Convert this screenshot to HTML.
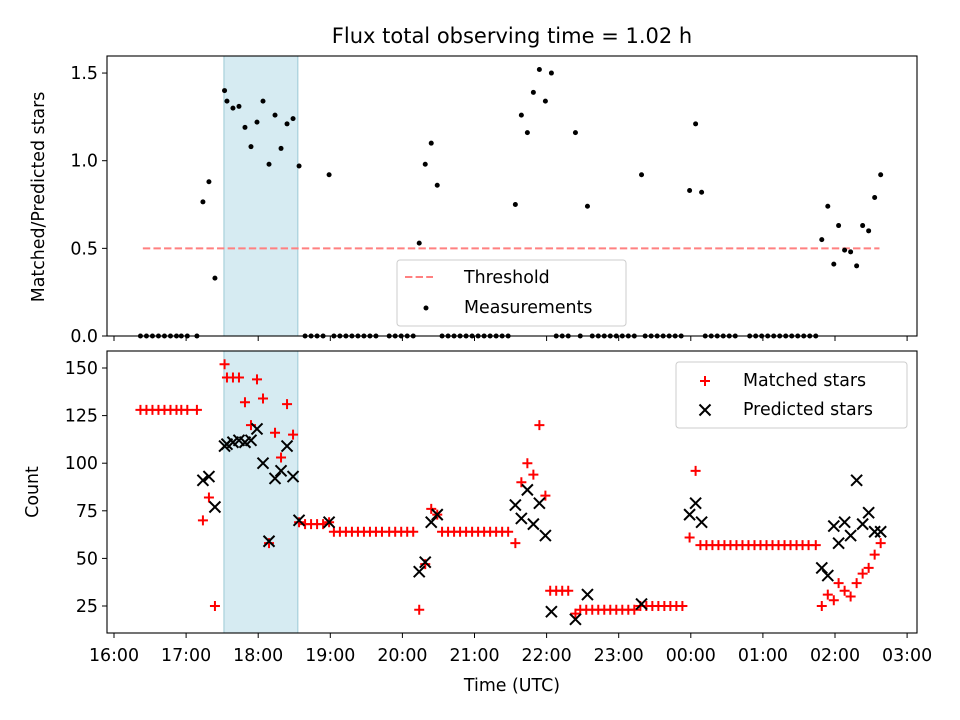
<!DOCTYPE html>
<html><head><meta charset="utf-8"><style>
body{margin:0;background:#fff}
svg{display:block;font-family:"DejaVu Sans","Liberation Sans",sans-serif}
</style></head><body>
<svg id="fig" width="960" height="720" viewBox="0 0 960 720" xmlns="http://www.w3.org/2000/svg">
<rect width="960" height="720" fill="#fff"/>
<text x="512" y="43" text-anchor="middle" font-size="21">Flux total observing time = 1.02 h</text>
</svg>
<script>
// time in minutes since 16:00 UTC
const tickLabels = ["16:00","17:00","18:00","19:00","20:00","21:00","22:00","23:00","00:00","01:00","02:00","03:00"];
const ratioTicks = [0, 0.5, 1.0, 1.5];
const countTicks = [25, 50, 75, 100, 125, 150];
const spanStart = 91.5, spanEnd = 153;
const threshold = 0.5, thresholdStart = 24, thresholdEnd = 637;
const ratioTimes = [74,79,84,92,94,99,104,109,114,119,124,129,134,139,144,149,154,179,254,259,264,269,334,339,344,349,354,359,364,384,394,439,479,484,489,589,594,599,603,608,613,618,623,628,633,638];
const ratioValues = [0.765,0.88,0.33,1.40,1.34,1.30,1.31,1.19,1.08,1.22,1.34,0.98,1.26,1.07,1.21,1.24,0.97,0.92,0.53,0.98,1.10,0.86,0.75,1.26,1.16,1.39,1.52,1.34,1.50,1.16,0.74,0.92,0.83,1.21,0.82,0.55,0.74,0.41,0.63,0.49,0.48,0.40,0.63,0.60,0.79,0.92];
const zeroTimes = [22,27,32,37,42,47,52,56,61,69,159,164,169,174,183,188,193,198,203,208,213,218,229,234,239,244,249,273,278,283,288,293,298,303,308,313,318,323,328,368,373,378,388,398,403,408,413,418,423,428,433,442,447,452,457,462,467,472,492,497,502,507,512,517,529,534,539,544,549,554,559,564,569,574,579,584];
const matchedTimes = [22,27,32,37,42,47,52,56,61,69,74,79,84,92,94,99,104,109,114,119,124,129,134,139,144,149,154,159,164,169,174,179,183,188,193,198,203,208,213,218,223,229,234,239,244,249,254,259,264,269,273,278,283,288,293,298,303,308,313,318,323,328,334,339,344,349,354,359,363,368,373,378,384,388,393,398,403,408,413,418,423,428,433,438,443,448,453,458,463,468,473,479,484,488,493,498,503,508,513,518,523,528,533,538,543,548,553,558,563,568,573,578,584,589,594,599,603,608,613,618,623,628,633,638];
const matchedValues = [128,128,128,128,128,128,128,128,128,128,70,82,25,152,145,145,145,132,120,144,134,58,116,103,131,115,69,68,68,68,68,69,64,64,64,64,64,64,64,64,64,64,64,64,64,64,23,47,76,73,64,64,64,64,64,64,64,64,64,64,64,64,58,90,100,94,120,83,33,33,33,33,21,23,23,23,23,23,23,23,23,23,23,25,25,25,25,25,25,25,25,61,96,57,57,57,57,57,57,57,57,57,57,57,57,57,57,57,57,57,57,57,57,25,31,28,37,33,30,37,42,45,52,58];
const predictedTimes = [74,79,84,92,94,99,104,109,114,119,124,129,134,139,144,149,154,179,254,259,264,269,334,339,344,349,354,359,364,384,394,439,479,484,489,589,594,599,603,608,613,618,623,628,633,638];
const predictedValues = [91,93,77,109,110,111,112,111,112,118,100,59,92,96,109,93,70,69,43,48,69,73,78,71,86,68,79,62,22,18,31,26,73,79,69,45,41,67,58,69,62,91,68,74,64,64];

const NS = "http://www.w3.org/2000/svg";
const svg = document.getElementById("fig");
const L = 107, R = 917;
const FS = 17.4;
const xs = m => 114 + m / 60 * 72.1;
const yTop = v => 336 - v * 175.3;
const yBot = v => 653.6 - v * 1.904;
function mk(tag, attrs, parent) {
  const e = document.createElementNS(NS, tag);
  for (const k in attrs) e.setAttribute(k, attrs[k]);
  (parent || svg).appendChild(e);
  return e;
}
function panel(top, bottom, name) {
  const g = mk("g", {});
  
  
  const s = mk("rect", {x: xs(spanStart), y: top, width: xs(spanEnd) - xs(spanStart), height: bottom - top, fill: "#add8e6", "fill-opacity": 0.5, stroke: "#9cc9d6", "stroke-width": 1}, g);
  
  
  return g;
}
function frame(g, top, bottom, showLabels) {
  mk("rect", {x: L, y: top, width: R - L, height: bottom - top, fill: "none", stroke: "#000", "stroke-width": 1.1}, g);
  tickLabels.forEach((t, i) => {
    const x = xs(i * 60);
    mk("line", {x1: x, x2: x, y1: bottom, y2: bottom + 5, stroke: "#000", "stroke-width": 1}, g);
    if (showLabels) {
      const tx = mk("text", {x: x, y: bottom + 28, "text-anchor": "middle", "font-size": FS}, g);
      tx.textContent = t;
      
      
    }
  });
}
function yTicks(g, ticks, f, fmt) {
  ticks.forEach(v => {
    const y = f(v);
    mk("line", {x1: L - 5, x2: L, y1: y, y2: y, stroke: "#000", "stroke-width": 1}, g);
    const t = mk("text", {x: L - 9, y: y + 6, "text-anchor": "end", "font-size": FS}, g);
    t.textContent = fmt(v);
    
    
  });
}
// top panel
const gt = panel(56, 336, "ratio-panel");
const th = mk("line", {x1: xs(thresholdStart), x2: xs(thresholdEnd), y1: yTop(threshold), y2: yTop(threshold), stroke: "#ff8080", "stroke-width": 2, "stroke-dasharray": "7.4,3.2"}, gt);


zeroTimes.forEach(m => {
  const c = mk("circle", {cx: xs(m), cy: yTop(0), r: 2.5, fill: "#000"}, gt);
  
  
});
ratioTimes.forEach((m, i) => {
  const c = mk("circle", {cx: xs(m), cy: yTop(ratioValues[i]), r: 2.5, fill: "#000"}, gt);
  
  
});
frame(gt, 56, 336, false);
yTicks(gt, ratioTicks, yTop, v => v.toFixed(1));
const yl1 = mk("text", {x: 44, y: 197, "text-anchor": "middle", "font-size": FS, transform: "rotate(-90 44 197)"}, gt);
yl1.textContent = "Matched/Predicted stars";


// top legend
const lg1 = mk("g", {}, gt);


mk("rect", {x: 397, y: 260, width: 229, height: 66, rx: 3, fill: "#fff", "fill-opacity": 0.8, stroke: "#ccc"}, lg1);
mk("line", {x1: 405, x2: 433, y1: 277, y2: 277, stroke: "#ff8080", "stroke-width": 2, "stroke-dasharray": "7.4,3.2"}, lg1);
mk("circle", {cx: 426, cy: 308, r: 2.5, fill: "#000"}, lg1);
const lt1 = mk("text", {x: 464, y: 283, "font-size": FS}, lg1); lt1.textContent = "Threshold";
const lt2 = mk("text", {x: 464, y: 313, "font-size": FS}, lg1); lt2.textContent = "Measurements";

// bottom panel
const gb = panel(351, 633, "count-panel");
function plus(g, x, y) {
  return mk("path", {d: `M${x-5},${y}H${x+5}M${x},${y-5}V${y+5}`, stroke: "#f00", "stroke-width": 2, fill: "none"}, g);
}
function cross(g, x, y) {
  return mk("path", {d: `M${x-5.5},${y-5.5}L${x+5.5},${y+5.5}M${x-5.5},${y+5.5}L${x+5.5},${y-5.5}`, stroke: "#000", "stroke-width": 2, fill: "none"}, g);
}
matchedTimes.forEach((m, i) => {
  const p = plus(gb, xs(m), yBot(matchedValues[i]));
  
  
});
predictedTimes.forEach((m, i) => {
  const p = cross(gb, xs(m), yBot(predictedValues[i]));
  
  
});
frame(gb, 351, 633, true);
yTicks(gb, countTicks, yBot, v => String(v));
const yl2 = mk("text", {x: 38, y: 492, "text-anchor": "middle", "font-size": FS, transform: "rotate(-90 38 492)"}, gb);
yl2.textContent = "Count";


const xl = mk("text", {x: 512, y: 691, "text-anchor": "middle", "font-size": FS}, gb);
xl.textContent = "Time (UTC)";


const lg2 = mk("g", {}, gb);


mk("rect", {x: 676, y: 362, width: 231, height: 66, rx: 3, fill: "#fff", "fill-opacity": 0.8, stroke: "#ccc"}, lg2);
plus(lg2, 705, 381);
cross(lg2, 705, 410);
const lt3 = mk("text", {x: 743, y: 386, "font-size": FS}, lg2); lt3.textContent = "Matched stars";
const lt4 = mk("text", {x: 743, y: 415, "font-size": FS}, lg2); lt4.textContent = "Predicted stars";
</script>
</body></html>
